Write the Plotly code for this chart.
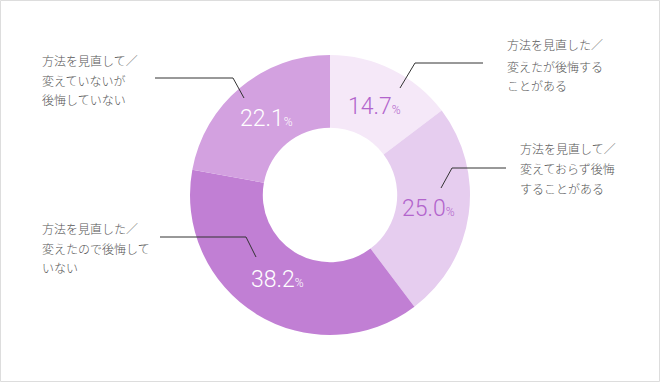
import math
import plotly.graph_objects as go

# ---- data ----
categories = [
    "方法を見直した／変えたが後悔することがある",
    "方法を見直して／変えておらず後悔することがある",
    "方法を見直した／変えたので後悔していない",
    "方法を見直して／変えていないが後悔していない",
]
values = [14.7, 25.0, 38.2, 22.1]
label_lines = [
    ["方法を見直した／", "変えたが後悔する", "ことがある"],
    ["方法を見直して／", "変えておらず後悔", "することがある"],
    ["方法を見直した／", "変えたので後悔して", "いない"],
    ["方法を見直して／", "変えていないが", "後悔していない"],
]
slice_colors = ["#f5e8f8", "#e6cdef", "#c17fd4", "#d3a1e0"]
pct_colors = ["#b264cc", "#b264cc", "#ffffff", "#ffffff"]

W, H = 660, 382
CX, CY, R = 330, 195, 140
HOLE = 0.48

fig = go.Figure()
fig.add_trace(go.Pie(
    labels=categories,
    values=values,
    sort=False,
    direction="clockwise",
    rotation=0,
    hole=HOLE,
    textinfo="none",
    hoverinfo="label+percent",
    marker=dict(colors=slice_colors, line=dict(width=0)),
    domain=dict(x=[(CX - R) / W, (CX + R) / W],
                y=[(H - CY - R) / H, (H - CY + R) / H]),
    showlegend=False,
))

def px(x):
    return x / W

def py(y):
    return 1 - y / H

annotations = []
# percentage labels at slice mid-angles
total = sum(values)
cum = 0.0
r_text = R * 0.71
for v, col in zip(values, pct_colors):
    mid = (cum + v / 2) / total * 2 * math.pi
    cum += v
    x = CX + r_text * math.sin(mid)
    y = CY - r_text * math.cos(mid)
    annotations.append(dict(
        x=px(x), y=py(y), xref="paper", yref="paper",
        text=f"{v:.1f}<span style='font-size:12px'>%</span>",
        showarrow=False, xanchor="center", yanchor="middle",
        font=dict(family="Roboto", size=23, color=col, weight=300),
    ))

# category labels (one annotation per line for wide line spacing)
label_pos = [
    (505, [45, 66, 86]),
    (518, [148, 168, 188]),
    (40, [228, 248, 267]),
    (40, [60, 80, 100]),
]
for lines, (lx, ys) in zip(label_lines, label_pos):
    for t, yy in zip(lines, ys):
        annotations.append(dict(
            x=px(lx), y=py(yy), xref="paper", yref="paper",
            text=t, showarrow=False, xanchor="left", yanchor="middle",
            font=dict(family="Noto Sans CJK JP", size=12, color="#555555", weight=300),
        ))

# leader lines: (horizontal start, horizontal end/elbow, diagonal end)
leaders = [
    [(483, 63), (415, 63), (400, 88)],
    [(506, 168), (452, 168), (441, 188)],
    [(160, 237), (246, 237), (256, 257)],
    [(155, 78), (233, 78), (244, 98)],
]
shapes = []
for pts in leaders:
    path = "M " + " L ".join(f"{px(a)},{py(b)}" for a, b in pts)
    shapes.append(dict(type="path", xref="paper", yref="paper", path=path,
                       line=dict(color="#333333", width=1)))

# outer border
shapes.append(dict(type="rect", xref="paper", yref="paper",
                   x0=px(0.5), x1=px(W - 0.5), y0=py(H - 0.5), y1=py(0.5),
                   line=dict(color="#dddddd", width=1)))

fig.update_layout(
    width=W, height=H, autosize=False,
    margin=dict(l=0, r=0, t=0, b=0),
    paper_bgcolor="#ffffff", plot_bgcolor="#ffffff",
    annotations=annotations, shapes=shapes,
)

fig.write_html("out.html",
               config={"displayModeBar": False},
               post_script="document.body.style.margin='0';document.body.style.overflow='hidden';")
